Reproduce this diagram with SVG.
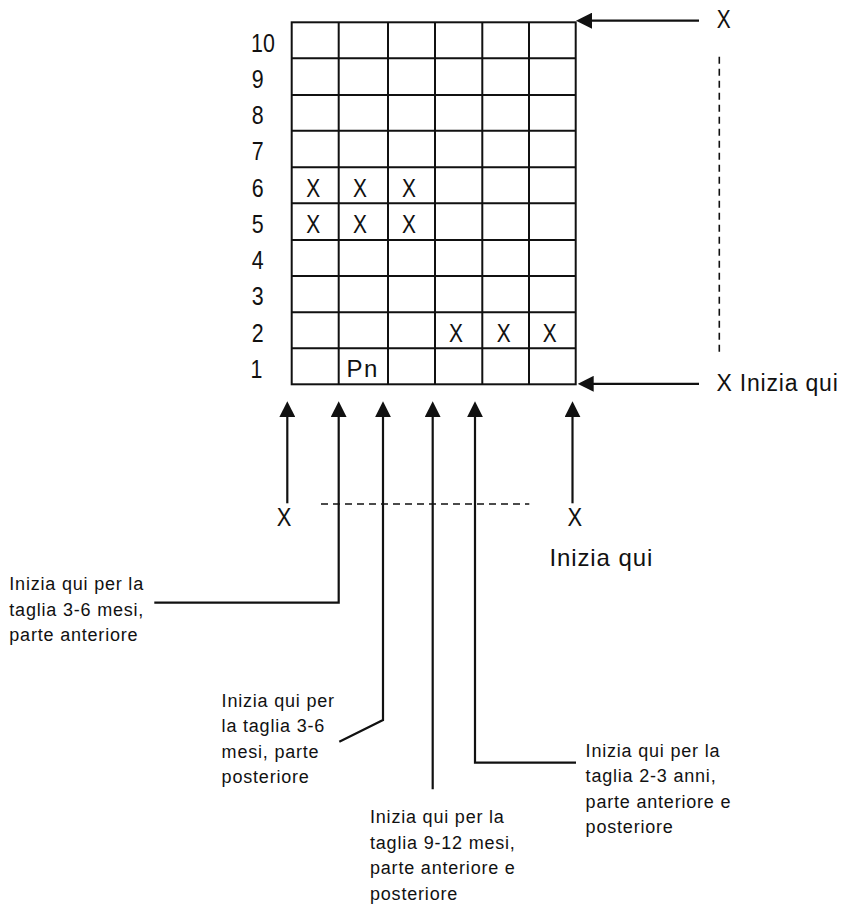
<svg xmlns="http://www.w3.org/2000/svg" width="845" height="907" viewBox="0 0 845 907">
<style>
.g{stroke:#111;stroke-width:2;fill:none}
.c{stroke:#111;stroke-width:2.2;fill:none}
.d{stroke:#111;stroke-width:1.6;fill:none;stroke-dasharray:7 5}
.n{font-family:"Liberation Sans",Arial,sans-serif;font-size:25.5px;fill:#111}
.m{font-family:"Liberation Sans",Arial,sans-serif;font-size:25.5px;fill:#111;text-anchor:middle}
.s{font-family:"Liberation Sans",Arial,sans-serif;font-size:18px;letter-spacing:0.8px;fill:#111}
.b{font-family:"Liberation Sans",Arial,sans-serif;letter-spacing:0.8px;fill:#111}
</style>
<defs>
<marker id="ah" markerUnits="userSpaceOnUse" viewBox="0 0 16 16" markerWidth="16" markerHeight="16" refX="12" refY="8" orient="auto">
<path d="M0,0 L16,8 L0,16 z" fill="#111"/>
</marker>
</defs>
<rect width="845" height="907" fill="#fff"/>
<g id="grid">
<rect class="g" x="291.7" y="22.3" width="284" height="362"/>
<path class="g" d="M338.7,22.3V384.3M388,22.3V384.3M435,22.3V384.3M482.3,22.3V384.3M529,22.3V384.3"/>
<path class="g" d="M291.7,58.3H575.7M291.7,95H575.7M291.7,130.7H575.7M291.7,167.3H575.7M291.7,203.3H575.7M291.7,240H575.7M291.7,276H575.7M291.7,312.3H575.7M291.7,348.3H575.7"/>
</g>
<g id="row-labels">
<text class="n" transform="translate(251,51.5) scale(0.84,1)">10</text>
<text class="n" transform="translate(251.8,87.8) scale(0.84,1)">9</text>
<text class="n" transform="translate(251.8,124) scale(0.84,1)">8</text>
<text class="n" transform="translate(251.8,160.2) scale(0.84,1)">7</text>
<text class="n" transform="translate(251.8,196.5) scale(0.84,1)">6</text>
<text class="n" transform="translate(251.8,232.8) scale(0.84,1)">5</text>
<text class="n" transform="translate(251.8,269.2) scale(0.84,1)">4</text>
<text class="n" transform="translate(251.8,305.3) scale(0.84,1)">3</text>
<text class="n" transform="translate(251.8,341.5) scale(0.84,1)">2</text>
<text class="n" transform="translate(250.5,377.5) scale(0.84,1)">1</text>
</g>
<g id="cell-marks">
<text class="m" transform="translate(313.3,196.7) scale(0.82,1)">X</text>
<text class="m" transform="translate(360,196.7) scale(0.82,1)">X</text>
<text class="m" transform="translate(409,196.7) scale(0.82,1)">X</text>
<text class="m" transform="translate(313.3,232.7) scale(0.82,1)">X</text>
<text class="m" transform="translate(360,232.7) scale(0.82,1)">X</text>
<text class="m" transform="translate(409,232.7) scale(0.82,1)">X</text>
<text class="m" transform="translate(456,341.7) scale(0.82,1)">X</text>
<text class="m" transform="translate(503.7,341.7) scale(0.82,1)">X</text>
<text class="m" transform="translate(549.7,341.7) scale(0.82,1)">X</text>
<text class="b" x="346.5" y="376.7" font-size="24" style="letter-spacing:1.5px">Pn</text>
</g>
<g id="connectors">
<path class="c" d="M699,20.7H580" marker-end="url(#ah)"/>
<path class="c" d="M699,383.8H581.7" marker-end="url(#ah)"/>
<path class="d" d="M719.3,56.7V352.7"/>
<path class="d" d="M321,504H529.3"/>
<path class="c" d="M287.3,503.3V405.2" marker-end="url(#ah)"/>
<path class="c" d="M154.3,602.7H338.7V405.2" marker-end="url(#ah)"/>
<path class="c" d="M339.3,741.7L383,720V405.2" marker-end="url(#ah)"/>
<path class="c" d="M432.7,789.3V405.2" marker-end="url(#ah)"/>
<path class="c" d="M576,762.7H475V405.2" marker-end="url(#ah)"/>
<path class="c" d="M572.5,503.3V405.2" marker-end="url(#ah)"/>
</g>
<g id="start-top">
<text class="m" transform="translate(723.7,27.7) scale(0.82,1)">X</text>
</g>
<g id="start-right">
<text class="b" x="716.5" y="390.7" font-size="23">X Inizia qui</text>
</g>
<g id="start-left">
<text class="m" font-size="24.5" transform="translate(284,525.7) scale(0.86,1)">X</text>
</g>
<g id="start-bottom">
<text class="m" font-size="24.5" transform="translate(574.8,525.7) scale(0.86,1)">X</text>
<text class="b" x="549.4" y="566" font-size="24" style="letter-spacing:0.9px">Inizia qui</text>
</g>
<g id="label-36-front">
<text class="s" x="9.3" y="590">Inizia qui per la</text>
<text class="s" x="9.3" y="615.5">taglia 3-6 mesi,</text>
<text class="s" x="9.3" y="641">parte anteriore</text>
</g>
<g id="label-36-back">
<text class="s" x="221.6" y="706.7">Inizia qui per</text>
<text class="s" x="221.6" y="732.2">la taglia 3-6</text>
<text class="s" x="221.6" y="757.7">mesi, parte</text>
<text class="s" x="221.6" y="783.2">posteriore</text>
</g>
<g id="label-912">
<text class="s" x="370" y="823">Inizia qui per la</text>
<text class="s" x="370" y="848.5">taglia 9-12 mesi,</text>
<text class="s" x="370" y="874">parte anteriore e</text>
<text class="s" x="370" y="899.5">posteriore</text>
</g>
<g id="label-23">
<text class="s" x="585.6" y="756.7">Inizia qui per la</text>
<text class="s" x="585.6" y="782.2">taglia 2-3 anni,</text>
<text class="s" x="585.6" y="807.7">parte anteriore e</text>
<text class="s" x="585.6" y="833.2">posteriore</text>
</g>
</svg>
